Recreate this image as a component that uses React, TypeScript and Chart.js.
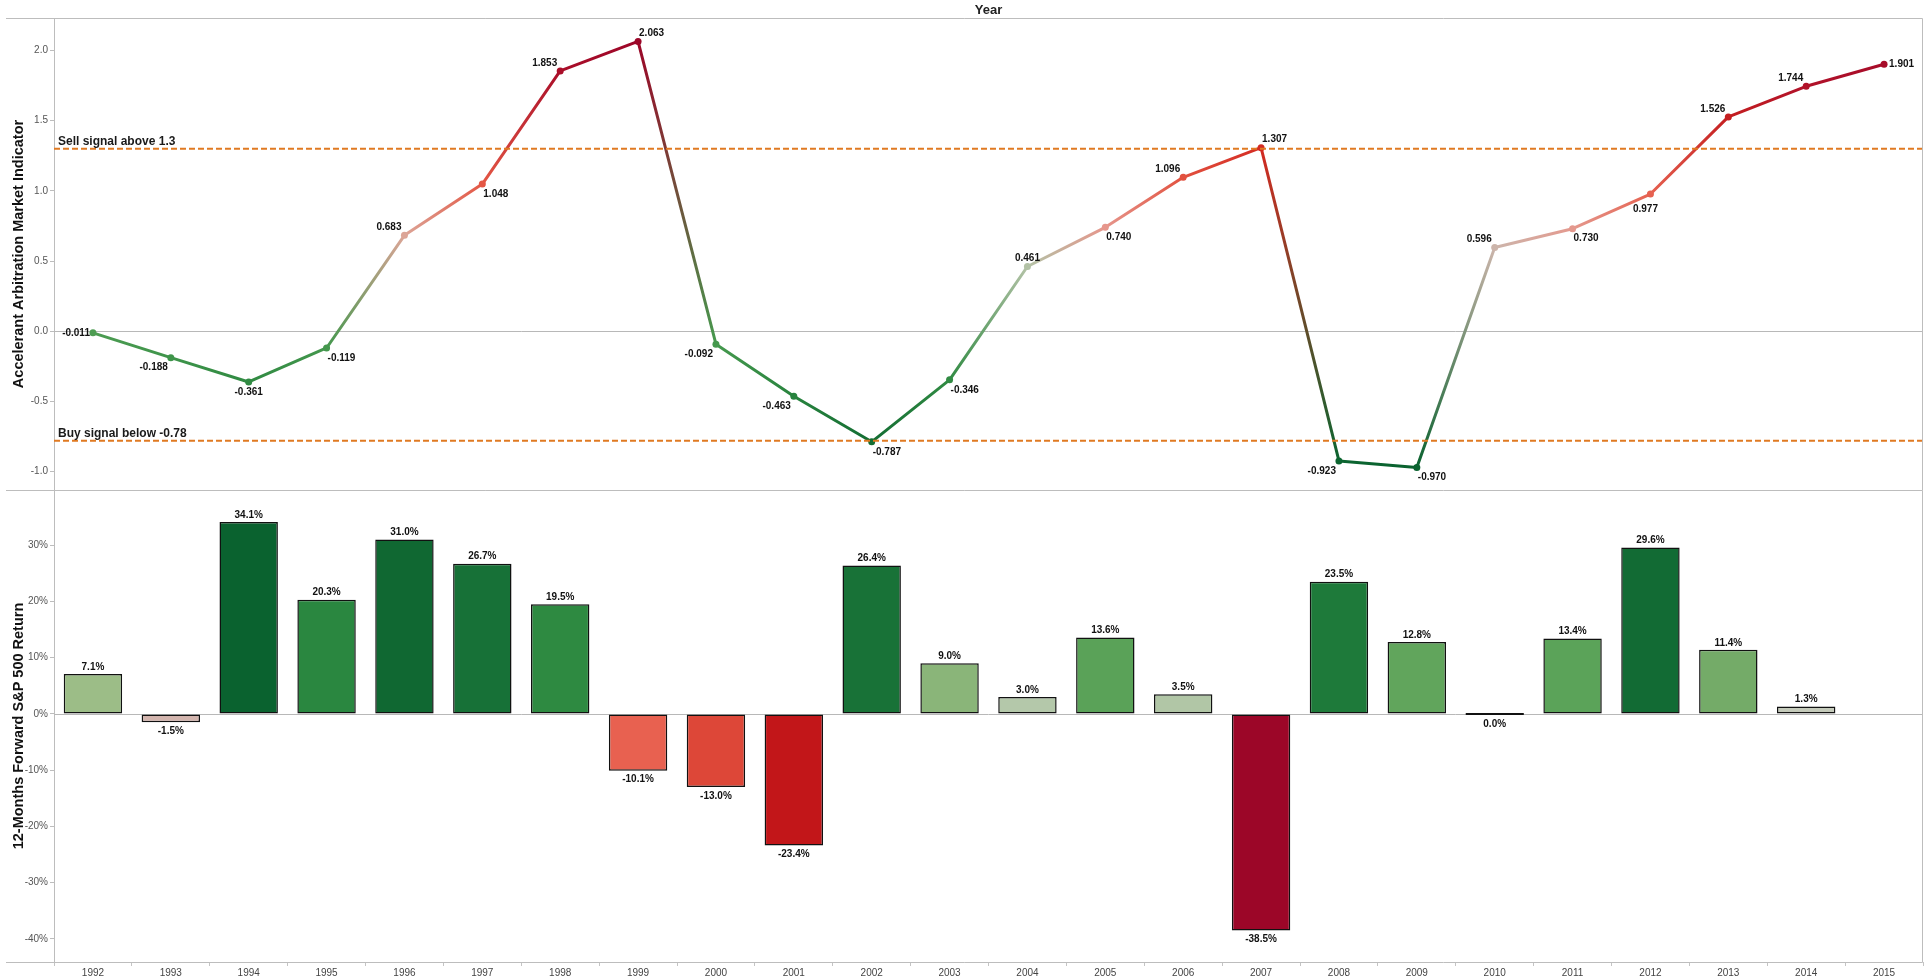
import React, { useEffect, useRef } from 'react';
import { Chart, registerables } from 'chart.js';

Chart.register(...registerables);

// ---------------- data ----------------
const YEARS = ['1992', '1993', '1994', '1995', '1996', '1997', '1998', '1999', '2000', '2001', '2002', '2003', '2004', '2005', '2006', '2007', '2008', '2009', '2010', '2011', '2012', '2013', '2014', '2015'];
const INDICATOR = [-0.011, -0.188, -0.361, -0.119, 0.683, 1.048, 1.853, 2.063, -0.092, -0.463, -0.787, -0.346, 0.461, 0.740, 1.096, 1.307, -0.923, -0.970, 0.596, 0.730, 0.977, 1.526, 1.744, 1.901];
const RETURNS: (number | null)[] = [7.1, -1.5, 34.1, 20.3, 31.0, 26.7, 19.5, -10.1, -13.0, -23.4, 26.4, 9.0, 3.0, 13.6, 3.5, -38.5, 23.5, 12.8, 0.0, 13.4, 29.6, 11.4, 1.3, null];
const SELL_LEVEL = 1.3;
const BUY_LEVEL = -0.78;
const SELL_TEXT = 'Sell signal above 1.3';
const BUY_TEXT = 'Buy signal below -0.78';
const TITLE_TEXT = 'Year';
const TOP_AXIS_TITLE = 'Accelerant Arbitration Market Indicator';
const BOTTOM_AXIS_TITLE = '12-Months Forward S&P 500 Return';
const TOP_RANGE = [-1.13, 2.23];
const BOTTOM_RANGE = [-44.1, 39.8];
// label placement around each indicator point (style)
const LINE_LABEL_POS = ['L', 'BL', 'B', 'BR', 'TL', 'BR', 'TL', 'TR', 'BL', 'BL', 'BR', 'BR', 'T', 'BR', 'TL', 'TR', 'BL', 'BR', 'TL', 'BR', 'BLL', 'TL', 'TL', 'R'];

// ---------------- colours ----------------
// bar colour ramp: position 0 = most negative return, 1 = most positive
const BAR_STOPS: [number, string][] = [
  [0, '#9c0628'],
  [0.21, '#c21619'],
  [0.35, '#dd4637'],
  [0.39, '#e8604f'],
  [0.45, '#e89a8c'],
  [0.51, '#d3b5ae'],
  [0.55, '#c3cbbb'],
  [0.57, '#b5c8ab'],
  [0.63, '#9bbd86'],
  [0.69, '#72aa67'],
  [0.71, '#5ea45a'],
  [0.80, '#2d8a41'],
  [0.85, '#1f7b3a'],
  [0.90, '#177137'],
  [1.0, '#0a622f'],
];
// line colour ramp, keyed by indicator level
const LINE_STOPS: [number, string][] = [
  [-0.97, '#0a622f'],
  [-0.6, '#1d7838'],
  [-0.3, '#358f45'],
  [0.0, '#4e9d52'],
  [0.2, '#7cae6c'],
  [0.46, '#b3c2a6'],
  [0.6, '#cdb5ab'],
  [0.7, '#dfa293'],
  [0.75, '#e8938a'],
  [0.98, '#e6604f'],
  [1.1, '#e2503e'],
  [1.31, '#d42a22'],
  [1.53, '#c41e20'],
  [1.75, '#b0122a'],
  [2.07, '#9c0628'],
];
function hex(h: string) {
  return [parseInt(h.slice(1, 3), 16), parseInt(h.slice(3, 5), 16), parseInt(h.slice(5, 7), 16)];
}
function ramp(stops: [number, string][], f: number) {
  if (f <= stops[0][0]) return stops[0][1];
  for (let i = 1; i < stops.length; i++) {
    if (f <= stops[i][0]) {
      const [f0, c0] = stops[i - 1];
      const [f1, c1] = stops[i];
      const t = (f - f0) / (f1 - f0);
      const a = hex(c0), b = hex(c1);
      const c = a.map((v, k) => Math.round(v + (b[k] - v) * t));
      return `rgb(${c[0]},${c[1]},${c[2]})`;
    }
  }
  return stops[stops.length - 1][1];
}
const lineColor = (v: number) => ramp(LINE_STOPS, v);
const retVals = RETURNS.filter((v) => v !== null) as number[];
const retMin = Math.min(...retVals), retMax = Math.max(...retVals);
const barColor = (v: number | null) => (v === null ? 'rgba(0,0,0,0)' : ramp(BAR_STOPS, (v - retMin) / (retMax - retMin)));

const FONT = '"Liberation Sans", Arial, Helvetica, sans-serif';

const overlay = {
  id: 'overlay',
  beforeDatasetsDraw(chart: any) {
    const { ctx, chartArea: ca, scales } = chart;
    const yT = scales.yTop, yB = scales.yBot;
    ctx.save();
    ctx.strokeStyle = '#b8b8b8';
    ctx.lineWidth = 1;
    for (const y of [Math.round(yT.getPixelForValue(0)) + 0.5, Math.round(yB.getPixelForValue(0)) + 0.5]) {
      ctx.beginPath();
      ctx.moveTo(ca.left, y);
      ctx.lineTo(ca.right, y);
      ctx.stroke();
    }
    ctx.restore();
  },
  afterDatasetsDraw(chart: any) {
    const { ctx, chartArea: ca, scales } = chart;
    const yT = scales.yTop;
    ctx.save();
    // reference lines
    ctx.strokeStyle = '#e07a22';
    ctx.lineWidth = 2;
    ctx.setLineDash([6, 3]);
    for (const lv of [SELL_LEVEL, BUY_LEVEL]) {
      const y = yT.getPixelForValue(lv);
      ctx.beginPath();
      ctx.moveTo(ca.left, y);
      ctx.lineTo(ca.right, y);
      ctx.stroke();
    }
    ctx.setLineDash([]);
    ctx.fillStyle = '#1a1a1a';
    ctx.font = `bold 12px ${FONT}`;
    ctx.textAlign = 'left';
    ctx.textBaseline = 'alphabetic';
    ctx.fillText(SELL_TEXT, ca.left + 4, yT.getPixelForValue(SELL_LEVEL) - 4);
    ctx.fillText(BUY_TEXT, ca.left + 4, yT.getPixelForValue(BUY_LEVEL) - 4);

    // line labels
    ctx.font = `bold 10px ${FONT}`;
    ctx.fillStyle = '#111';
    ctx.textBaseline = 'middle';
    const lineMeta = chart.getDatasetMeta(1);
    lineMeta.data.forEach((pt: any, i: number) => {
      const txt = INDICATOR[i].toFixed(3);
      const pos = LINE_LABEL_POS[i];
      let x = pt.x, y = pt.y;
      let align: CanvasTextAlign = 'center';
      if (pos === 'L') { align = 'right'; x -= 3; }
      else if (pos === 'R') { align = 'left'; x += 5; }
      else if (pos === 'BLL') { align = 'center'; x -= 5; y += 15; }
      else {
        if (pos[0] === 'T') y -= 8; else y += 10;
        if (pos[1] === 'L') { align = 'right'; x -= 3; }
        else if (pos[1] === 'R') { align = 'left'; x += 1; }
      }
      ctx.textAlign = align;
      ctx.fillText(txt, x, y);
    });

    // bar labels
    const barMeta = chart.getDatasetMeta(0);
    ctx.textAlign = 'center';
    barMeta.data.forEach((bar: any, i: number) => {
      const v = RETURNS[i];
      if (v === null) return;
      const txt = v.toFixed(1) + '%';
      const top = Math.min(bar.y, bar.base), bottom = Math.max(bar.y, bar.base);
      if (v > 0) {
        ctx.textBaseline = 'bottom';
        ctx.fillText(txt, bar.x, top - 2);
      } else {
        ctx.textBaseline = 'top';
        ctx.fillText(txt, bar.x, bottom + 4);
      }
    });
    ctx.restore();
  },
  afterDraw(chart: any) {
    const { ctx, chartArea: ca, scales } = chart;
    ctx.save();
    ctx.strokeStyle = '#bdbdbd';
    ctx.lineWidth = 1;
    const left = 6;
    const yDiv = Math.round(scales.yBot.top) + 0.5;
    const yTopL = Math.round(ca.top) + 0.5;
    const yBotL = Math.round(ca.bottom) + 0.5;
    const xR = Math.round(ca.right) - 0.5;
    ctx.beginPath();
    ctx.moveTo(left, yTopL); ctx.lineTo(xR, yTopL);
    ctx.moveTo(left, yDiv); ctx.lineTo(xR, yDiv);
    ctx.moveTo(left, yBotL); ctx.lineTo(xR, yBotL);
    ctx.moveTo(xR, yTopL); ctx.lineTo(xR, yBotL);
    ctx.stroke();
    ctx.fillStyle = '#222';
    ctx.font = `bold 13px ${FONT}`;
    ctx.textAlign = 'center';
    ctx.textBaseline = 'middle';
    ctx.fillText(TITLE_TEXT, (ca.left + ca.right) / 2, 10);
    ctx.restore();
  },
};

export default function App() {
  const ref = useRef<HTMLCanvasElement>(null);
  useEffect(() => {
    document.documentElement.style.overflow = 'hidden';
    document.body.style.margin = '0';
    document.body.style.overflow = 'hidden';
    const canvas = ref.current!;
    const c2d = canvas.getContext('2d')!;
    Chart.defaults.font.family = FONT;

    const yCommon = (title: string) => ({
      position: 'left' as const,
      stack: 'panels',
      stackWeight: 1,
      afterFit: (s: any) => { s.width = 54; },
      grid: { display: true, drawOnChartArea: false, drawTicks: true, tickLength: 4, color: '#bdbdbd' },
      border: { display: true, color: '#bdbdbd', width: 1 },
      title: { display: true, text: title, color: '#111', font: { size: 14.5, weight: 'bold' as const }, padding: { top: 10, bottom: 0 } },
    });

    const chart = new Chart(canvas, {
      type: 'bar',
      data: {
        labels: YEARS,
        datasets: [
          {
            type: 'bar',
            data: RETURNS as any,
            yAxisID: 'yBot',
            backgroundColor: RETURNS.map(barColor),
            borderColor: '#111111',
            borderWidth: 1.5,
            borderSkipped: false,
            barPercentage: 0.75,
            categoryPercentage: 1.0,
            minBarLength: 2,
          } as any,
          {
            type: 'line',
            data: INDICATOR,
            yAxisID: 'yTop',
            borderWidth: 3,
            borderJoinStyle: 'round',
            borderCapStyle: 'round',
            pointRadius: 3.5,
            pointBorderWidth: 0,
            pointBackgroundColor: INDICATOR.map(lineColor),
            tension: 0,
            segment: {
              borderColor: (sc: any) => {
                const g = c2d.createLinearGradient(sc.p0.x, sc.p0.y, sc.p1.x, sc.p1.y);
                g.addColorStop(0, lineColor(INDICATOR[sc.p0DataIndex]));
                g.addColorStop(1, lineColor(INDICATOR[sc.p1DataIndex]));
                return g;
              },
            },
          } as any,
        ],
      },
      options: {
        responsive: false,
        animation: false,
        devicePixelRatio: 1,
        layout: { padding: { top: 18, right: 3, left: 0, bottom: 0 } },
        plugins: { legend: { display: false }, tooltip: { enabled: false }, title: { display: false } },
        events: [],
        scales: {
          x: {
            type: 'category',
            position: 'bottom',
            afterFit: (s: any) => { s.height = 18; },
            grid: { display: true, drawOnChartArea: false, drawTicks: true, tickLength: 4, color: '#c4c4c4', offset: true },
            border: { display: false },
            ticks: { color: '#444', font: { size: 10 }, padding: 1, maxRotation: 0, autoSkip: false },
          },
          yBot: {
            ...yCommon(BOTTOM_AXIS_TITLE),
            type: 'linear',
            weight: 0,
            min: BOTTOM_RANGE[0],
            max: BOTTOM_RANGE[1],
            ticks: { stepSize: 10, includeBounds: false, color: '#555', font: { size: 10 }, padding: 2, callback: (v: any) => `${v}%` },
          },
          yTop: {
            ...yCommon(TOP_AXIS_TITLE),
            type: 'linear',
            weight: 1,
            min: TOP_RANGE[0],
            max: TOP_RANGE[1],
            ticks: { stepSize: 0.5, includeBounds: false, color: '#555', font: { size: 10 }, padding: 2, callback: (v: any) => Number(v).toFixed(1) },
          },
        } as any,
      },
      plugins: [overlay as any],
    });
    return () => chart.destroy();
  }, []);
  return (
    <div style={{ width: 1927, height: 980, position: 'relative' }}>
      <canvas ref={ref} width={1927} height={980} style={{ display: 'block', width: 1927, height: 980 }} />
    </div>
  );
}
